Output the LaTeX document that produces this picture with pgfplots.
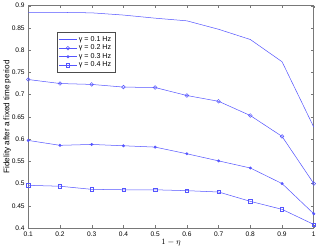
\documentclass[border=0pt]{standalone}
\usepackage{pgfplots}
\pgfplotsset{compat=1.18}
\usepackage{fontspec}
\setmainfont{Liberation Sans}
\definecolor{mb}{RGB}{85,85,255}
\definecolor{ax}{RGB}{120,120,120}
\begin{document}
\begin{tikzpicture}
\begin{axis}[
  scale only axis, width=280bp, height=218bp,
  xmin=0.1, xmax=1, ymin=0.4, ymax=0.9,
  xtick={0.1,0.2,0.3,0.4,0.5,0.6,0.7,0.8,0.9,1},
  xticklabels={0.1,0.2,0.3,0.4,0.5,0.6,0.7,0.8,0.9,1},
  ytick={0.4,0.45,0.5,0.55,0.6,0.65,0.7,0.75,0.8,0.85,0.9},
  yticklabels={0.4,0.45,0.5,0.55,0.6,0.65,0.7,0.75,0.8,0.85,0.9},
  tick align=inside, major tick length=2.5bp,
  tick style={ax, line width=0.4pt},
  axis line style={ax, line width=0.8pt},
  ticklabel style={font=\fontsize{6.5}{7.5}\selectfont},
  xlabel={$1-\eta$}, xlabel style={font=\fontsize{8}{9}\selectfont, yshift=4bp},
  ylabel={Fidelity after a fixed time period}, ylabel style={font=\fontsize{8}{9}\selectfont, yshift=-6bp},
  legend style={at={(0.1,0.881)}, anchor=north west, font=\fontsize{7}{8}\selectfont, draw=black!70, line width=0.4pt, inner sep=2pt, row sep=-2pt},
  legend cell align=left,
  every axis plot/.append style={mb, line width=0.5pt},
]
\addplot[mark=none] coordinates {(0.1,0.885)(0.2,0.885)(0.3,0.884)(0.4,0.879)(0.5,0.872)(0.6,0.866)(0.7,0.847)(0.8,0.824)(0.9,0.774)(1,0.627)};
\addlegendentry{γ = 0.1 Hz\hspace{14bp}}
\addplot[mark=o, mark size=1.8pt, mark options={line width=0.5pt}] coordinates {(0.1,0.734)(0.2,0.725)(0.3,0.723)(0.4,0.717)(0.5,0.716)(0.6,0.698)(0.7,0.685)(0.8,0.653)(0.9,0.606)(1,0.500)};
\addlegendentry{γ = 0.2 Hz\hspace{14bp}}
\addplot[mark=*, mark size=1.2pt] coordinates {(0.1,0.597)(0.2,0.586)(0.3,0.588)(0.4,0.585)(0.5,0.582)(0.6,0.567)(0.7,0.551)(0.8,0.535)(0.9,0.500)(1,0.432)};
\addlegendentry{γ = 0.3 Hz\hspace{14bp}}
\addplot[mark=square, mark size=1.6pt, mark options={line width=0.5pt}] coordinates {(0.1,0.496)(0.2,0.494)(0.3,0.487)(0.4,0.486)(0.5,0.486)(0.6,0.484)(0.7,0.481)(0.8,0.460)(0.9,0.442)(1,0.408)};
\addlegendentry{γ = 0.4 Hz\hspace{14bp}}
\end{axis}
\end{tikzpicture}
\end{document}
